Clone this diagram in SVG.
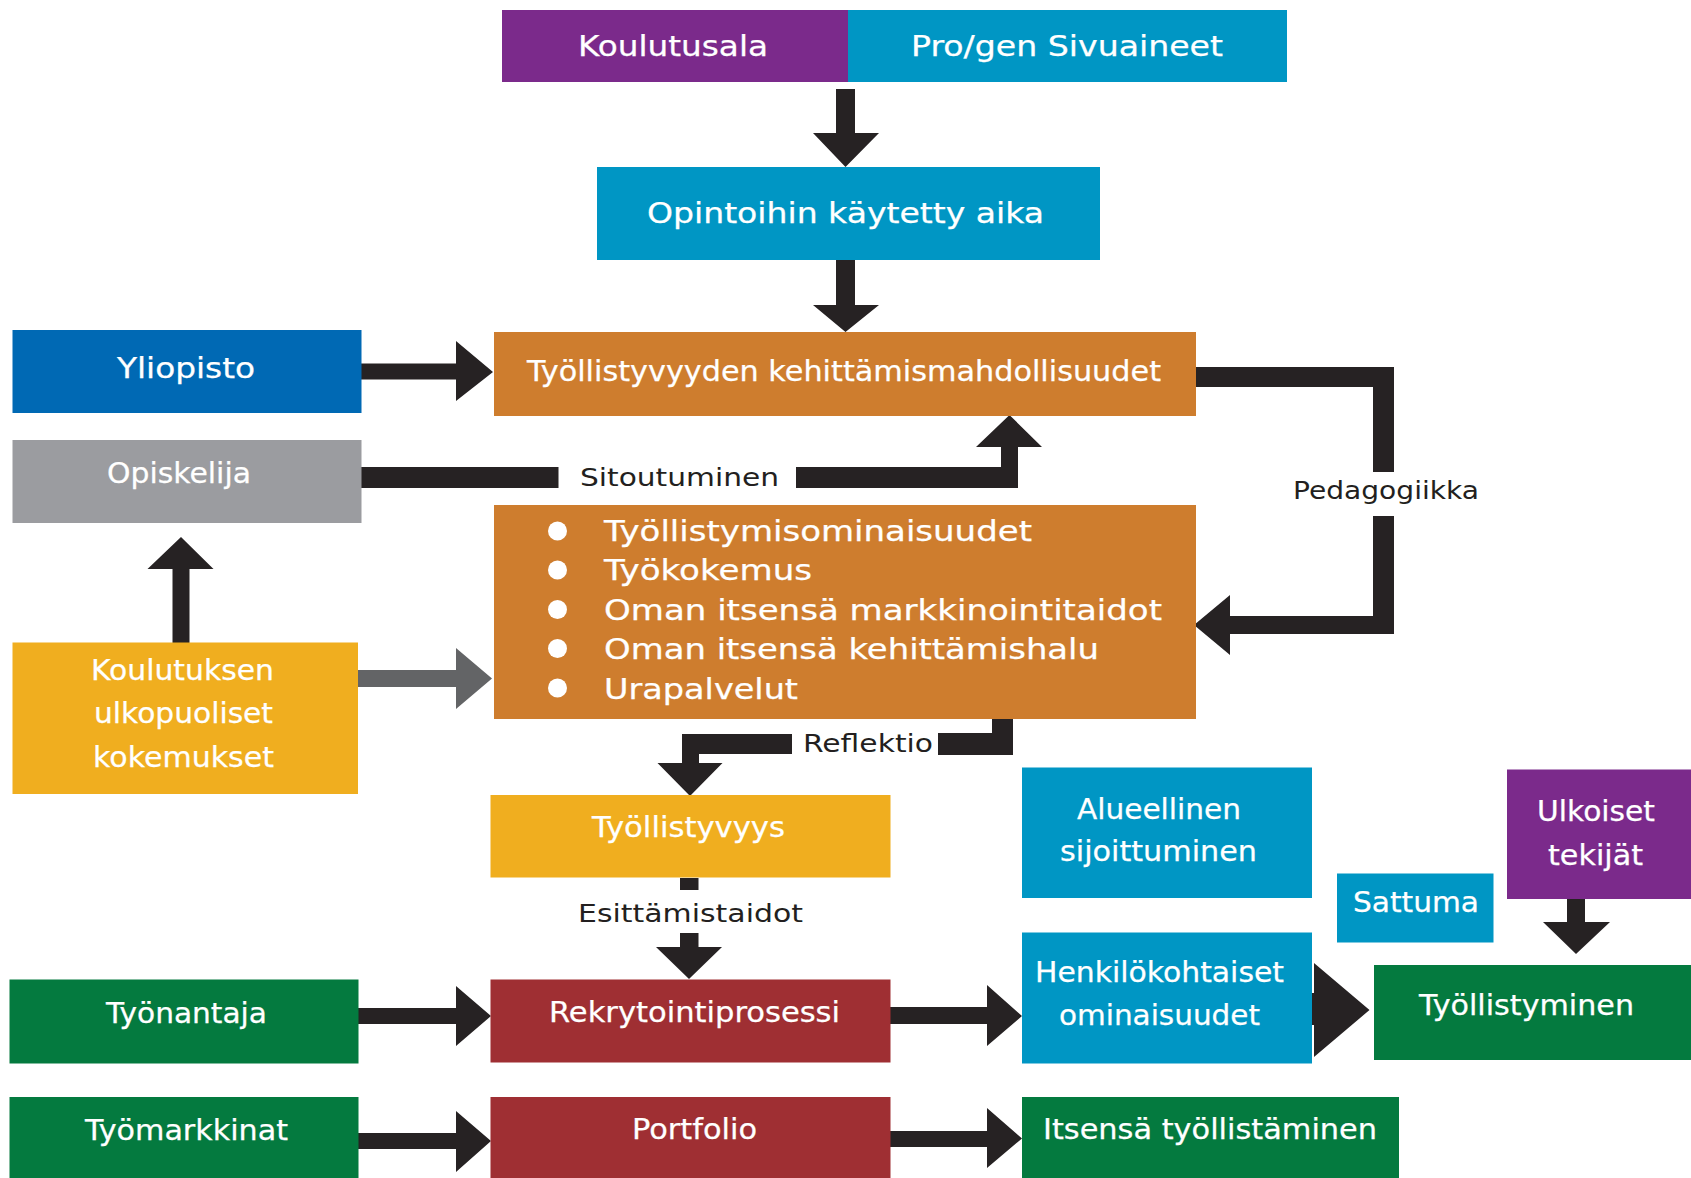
<svg xmlns="http://www.w3.org/2000/svg" width="1691" height="1178" viewBox="0 0 1691 1178">
<style>
.t{font-family:"DejaVu Sans",Verdana,"Liberation Sans",sans-serif;fill:#ffffff;stroke:#ffffff;stroke-width:0.25;font-size:27.5px}
.d{font-family:"DejaVu Sans",Verdana,"Liberation Sans",sans-serif;fill:#231f20;font-size:25.5px}
.purple{fill:#7b2a8b}.teal{fill:#0096c4}.blue{fill:#0069b4}.gray{fill:#9b9ca0}
.orange{fill:#ce7d2e}.yellow{fill:#f0ae1f}.green{fill:#047a3f}.red{fill:#9f2f33}
.arr{fill:#262223}.garr{fill:#636466}
</style>
<rect width="1691" height="1178" fill="#ffffff"/>

<g id="connectors">
  <polygon class="arr" points="836,89 855,89 855,133 879,133 845.5,167 813,133 836,133"/>
  <polygon class="arr" points="836,260 855,260 855,305 879,305 845.5,332 813,305 836,305"/>
  <polygon class="arr" points="357,363.5 456,363.5 456,341 493,372 456,401 456,379.5 357,379.5"/>
  <rect class="arr" x="358" y="467" width="200.5" height="21"/>
  <polygon class="arr" points="796,467 1001,467 1001,447 976,447 1009.5,415 1042,447 1018,447 1018,488 796,488"/>
  <polygon class="arr" points="1196,367 1394,367 1394,472 1373,472 1373,387 1196,387"/>
  <polygon class="arr" points="1373,516 1394,516 1394,634 1230,634 1230,655 1194,625 1230,595 1230,616 1373,616"/>
  <polygon class="garr" points="357,670 456,670 456,648 492,678.5 456,709 456,687 357,687"/>
  <polygon class="arr" points="172.5,643 172.5,569 147.5,569 181,537 213.5,569 189.5,569 189.5,643"/>
  <polygon class="arr" points="992,719 1013,719 1013,755 938,755 938,733 992,733"/>
  <polygon class="arr" points="792,734 792,754 699,754 699,763 722.5,763 690,796 657.5,763 682,763 682,734"/>
  <rect class="arr" x="680" y="878" width="18.5" height="12"/>
  <polygon class="arr" points="680,933 698.5,933 698.5,947 722,947 689,979 656,947 680,947"/>
  <polygon class="arr" points="888,1007 987,1007 987,985 1022,1016 987,1046 987,1024 888,1024"/>
  <polygon class="arr" points="888,1131 987,1131 987,1108 1022,1138.5 987,1168 987,1147 888,1147"/>
  <polygon class="arr" points="358,1008 456,1008 456,986 491,1016 456,1046 456,1024 358,1024"/>
  <polygon class="arr" points="358,1133 456,1133 456,1111 491,1141 456,1172 456,1149 358,1149"/>
  <polygon class="arr" points="1567,899 1585,899 1585,922 1610,922 1576,954 1543,922 1567,922"/>
  <polygon class="arr" points="1309,993 1314,993 1314,963 1369.5,1010 1314,1057 1314,1025 1309,1025"/>
  <text class="d" x="580" y="486" textLength="199" lengthAdjust="spacingAndGlyphs">Sitoutuminen</text>
  <text class="d" x="1293" y="499" textLength="186" lengthAdjust="spacingAndGlyphs">Pedagogiikka</text>
  <text class="d" x="803" y="752" textLength="130" lengthAdjust="spacingAndGlyphs">Reflektio</text>
  <text class="d" x="578" y="922" textLength="225" lengthAdjust="spacingAndGlyphs">Esittämistaidot</text>
</g>

<g id="koulutusala">
  <rect class="purple" x="502" y="10" width="346" height="72"/>
  <text class="t" x="578" y="56" font-size="30" textLength="190" lengthAdjust="spacingAndGlyphs">Koulutusala</text>
</g>
<g id="sivuaineet">
  <rect class="teal" x="848" y="10" width="439" height="72"/>
  <text class="t" x="911" y="56" font-size="30" textLength="312" lengthAdjust="spacingAndGlyphs">Pro/gen Sivuaineet</text>
</g>
<g id="opintoihin">
  <rect class="teal" x="597" y="167" width="503" height="93"/>
  <text class="t" x="647" y="223" font-size="30" textLength="397" lengthAdjust="spacingAndGlyphs">Opintoihin käytetty aika</text>
</g>
<g id="kehittamismahdollisuudet">
  <rect class="orange" x="494" y="332" width="702" height="84"/>
  <text class="t" x="527" y="381" font-size="27" textLength="634" lengthAdjust="spacingAndGlyphs">Työllistyvyyden kehittämismahdollisuudet</text>
</g>
<g id="yliopisto">
  <rect class="blue" x="12.5" y="330" width="349" height="83"/>
  <text class="t" x="117" y="378" font-size="30" textLength="138" lengthAdjust="spacingAndGlyphs">Yliopisto</text>
</g>
<g id="opiskelija">
  <rect class="gray" x="12.5" y="440" width="349" height="83"/>
  <text class="t" x="107" y="483" textLength="144" lengthAdjust="spacingAndGlyphs">Opiskelija</text>
</g>
<g id="ominaisuudet-lista">
  <rect class="orange" x="494" y="505" width="702" height="214"/>
  <g fill="#ffffff">
    <circle cx="557.5" cy="531" r="9.5"/>
    <circle cx="557.5" cy="570" r="9.5"/>
    <circle cx="557.5" cy="609.5" r="9.5"/>
    <circle cx="557.5" cy="648.5" r="9.5"/>
    <circle cx="557.5" cy="688" r="9.5"/>
  </g>
  <text class="t" x="604" y="541" font-size="28.5" textLength="428" lengthAdjust="spacingAndGlyphs">Työllistymisominaisuudet</text>
  <text class="t" x="604" y="580" font-size="28.5" textLength="208" lengthAdjust="spacingAndGlyphs">Työkokemus</text>
  <text class="t" x="604" y="619.5" font-size="28.5" textLength="558" lengthAdjust="spacingAndGlyphs">Oman itsensä markkinointitaidot</text>
  <text class="t" x="604" y="659" font-size="28.5" textLength="495" lengthAdjust="spacingAndGlyphs">Oman itsensä kehittämishalu</text>
  <text class="t" x="604" y="698.5" font-size="28.5" textLength="194" lengthAdjust="spacingAndGlyphs">Urapalvelut</text>
</g>
<g id="koulutuksen-ulkopuoliset">
  <rect class="yellow" x="12.5" y="642.5" width="345.5" height="151.5"/>
  <text class="t" x="91" y="680" textLength="183" lengthAdjust="spacingAndGlyphs">Koulutuksen</text>
  <text class="t" x="94" y="723" textLength="179" lengthAdjust="spacingAndGlyphs">ulkopuoliset</text>
  <text class="t" x="93" y="767" textLength="181" lengthAdjust="spacingAndGlyphs">kokemukset</text>
</g>
<g id="tyollistyvyys">
  <rect class="yellow" x="490.5" y="795" width="400" height="82.5"/>
  <text class="t" x="592" y="837" textLength="193" lengthAdjust="spacingAndGlyphs">Työllistyvyys</text>
</g>
<g id="rekrytointiprosessi">
  <rect class="red" x="490.5" y="979.5" width="400" height="83"/>
  <text class="t" x="549" y="1022" textLength="291" lengthAdjust="spacingAndGlyphs">Rekrytointiprosessi</text>
</g>
<g id="portfolio">
  <rect class="red" x="490.5" y="1097" width="400" height="81"/>
  <text class="t" x="632" y="1139" textLength="125" lengthAdjust="spacingAndGlyphs">Portfolio</text>
</g>
<g id="tyonantaja">
  <rect class="green" x="9.5" y="979.5" width="349" height="84"/>
  <text class="t" x="106" y="1023" textLength="161" lengthAdjust="spacingAndGlyphs">Työnantaja</text>
</g>
<g id="tyomarkkinat">
  <rect class="green" x="9.5" y="1097" width="349" height="81"/>
  <text class="t" x="85" y="1140" textLength="203" lengthAdjust="spacingAndGlyphs">Työmarkkinat</text>
</g>
<g id="alueellinen">
  <rect class="teal" x="1022" y="767.5" width="290" height="130.5"/>
  <text class="t" x="1077" y="819" font-size="28.5" textLength="164" lengthAdjust="spacingAndGlyphs">Alueellinen</text>
  <text class="t" x="1060" y="861" font-size="28.5" textLength="197" lengthAdjust="spacingAndGlyphs">sijoittuminen</text>
</g>
<g id="sattuma">
  <rect class="teal" x="1337" y="873.5" width="156.5" height="69"/>
  <text class="t" x="1353" y="912" font-size="28.5" textLength="126" lengthAdjust="spacingAndGlyphs">Sattuma</text>
</g>
<g id="ulkoiset">
  <rect class="purple" x="1507" y="769.5" width="184" height="129.5"/>
  <text class="t" x="1537" y="821" font-size="28.5" textLength="118" lengthAdjust="spacingAndGlyphs">Ulkoiset</text>
  <text class="t" x="1548" y="865" font-size="28.5" textLength="95" lengthAdjust="spacingAndGlyphs">tekijät</text>
</g>
<g id="henkilokohtaiset">
  <rect class="teal" x="1022" y="932.5" width="290" height="131"/>
  <text class="t" x="1035" y="982" font-size="28.5" textLength="249" lengthAdjust="spacingAndGlyphs">Henkilökohtaiset</text>
  <text class="t" x="1059" y="1025" font-size="28.5" textLength="201" lengthAdjust="spacingAndGlyphs">ominaisuudet</text>
</g>
<g id="tyollistyminen">
  <rect class="green" x="1374" y="965" width="317" height="95"/>
  <text class="t" x="1419" y="1015" font-size="28.5" textLength="215" lengthAdjust="spacingAndGlyphs">Työllistyminen</text>
</g>
<g id="itsensa-tyollistaminen">
  <rect class="green" x="1022" y="1097" width="377" height="81"/>
  <text class="t" x="1043" y="1139" font-size="28.5" textLength="334" lengthAdjust="spacingAndGlyphs">Itsensä työllistäminen</text>
</g>
</svg>
